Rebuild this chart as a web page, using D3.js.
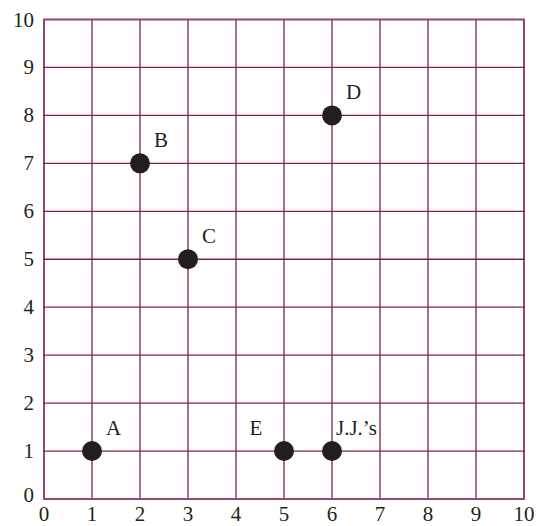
<!DOCTYPE html>
<html>
<head>
<meta charset="utf-8">
<script src="https://cdn.jsdelivr.net/npm/d3@7"></script>
<style>
  body { margin: 0; background: #fff; }
  text { font-family: "Liberation Serif", "DejaVu Serif", serif; fill: #231f20; }
</style>
</head>
<body>
<div id="chart"></div>
<script>
var pointNames = ["A", "B", "C", "D", "E", "J.J.\u2019s"];
var xValues = [1, 2, 3, 6, 5, 6];
var yValues = [1, 7, 5, 8, 1, 1];
var tickValues = [0, 1, 2, 3, 4, 5, 6, 7, 8, 9, 10];

var w = 537, h = 526;
var plotLeft = 44, plotTop = 19.5, plotRight = 524, plotBottom = 499;
var gridColor = "#82204f";
var edgeColor = "#98466f";

var svg = d3.select("#chart").append("svg")
  .attr("width", w)
  .attr("height", h);

var x = d3.scaleLinear().domain([0, 10]).range([plotLeft, plotRight]);
var y = d3.scaleLinear().domain([0, 10]).range([plotBottom, plotTop]);

function isEdge(d) { return d === 0 || d === 10; }

// grid lines
svg.append("g").selectAll("line")
  .data(tickValues)
  .enter().append("line")
  .attr("x1", function(d) { return x(d); })
  .attr("x2", function(d) { return x(d); })
  .attr("y1", y(0))
  .attr("y2", y(10))
  .attr("stroke", function(d) { return isEdge(d) ? edgeColor : gridColor; })
  .attr("stroke-width", function(d) { return isEdge(d) ? 2 : 1.3; });

svg.append("g").selectAll("line")
  .data(tickValues)
  .enter().append("line")
  .attr("y1", function(d) { return y(d); })
  .attr("y2", function(d) { return y(d); })
  .attr("x1", x(0) - 1)
  .attr("x2", x(10) + 1)
  .attr("stroke", function(d) { return isEdge(d) ? edgeColor : gridColor; })
  .attr("stroke-width", function(d) { return isEdge(d) ? 2 : 1.3; });

// tick labels
svg.append("g").selectAll("text")
  .data(tickValues)
  .enter().append("text")
  .attr("x", function(d) { return x(d); })
  .attr("y", plotBottom + 22)
  .attr("text-anchor", "middle")
  .attr("font-size", 21)
  .text(function(d) { return d; });

svg.append("g").selectAll("text")
  .data(tickValues)
  .enter().append("text")
  .attr("x", plotLeft - 10)
  .attr("y", function(d) { return y(d) + (d === 0 ? 3 : 7); })
  .attr("text-anchor", "end")
  .attr("font-size", 21)
  .text(function(d) { return d; });

// points
var pts = pointNames.map(function(n, i) { return { name: n, x: xValues[i], y: yValues[i] }; });

svg.append("g").selectAll("circle")
  .data(pts)
  .enter().append("circle")
  .attr("cx", function(d) { return x(d.x); })
  .attr("cy", function(d) { return y(d.y); })
  .attr("r", 10)
  .attr("fill", "#231f20");

// point labels: E sits to the left, J.J.'s hugs the point
svg.append("g").selectAll("text")
  .data(pts)
  .enter().append("text")
  .attr("x", function(d) {
    if (d.name === "E") return x(d.x) - 28;
    if (d.name.length > 1) return x(d.x) + 4;
    return x(d.x) + 14;
  })
  .attr("y", function(d) { return y(d.y) - 16; })
  .attr("text-anchor", function(d) { return d.name === "E" ? "middle" : "start"; })
  .attr("font-size", 21)
  .text(function(d) { return d.name; });
</script>
</body>
</html>
